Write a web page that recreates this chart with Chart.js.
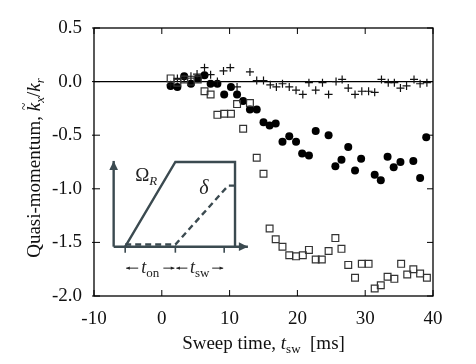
<!DOCTYPE html>
<html>
<head>
<meta charset="utf-8">
<script src="https://cdn.jsdelivr.net/npm/chart.js@4.4.1/dist/chart.umd.min.js"></script>
<style>
  html, body { margin: 0; padding: 0; background: #fff; }
  #wrap { width: 476px; height: 364px; }
</style>
</head>
<body>
<div id="wrap"><canvas id="chart"></canvas></div>
<script>
// filled circles
const circleT = [1.3,2.3,3.3,4.3,5.3,6.3,7.2,8.2,9.2,10.2,11.1,12,13,14,15,15.9,16.8,17.8,18.8,19.8,20.7,21.7,22.7,24.6,25.6,26.5,27.5,28.5,29.4,31.4,32.3,33.3,34.2,35.2,37.1,38.1,39.0];
const circleY = [-0.04,-0.05,0.05,-0.02,0.03,0.06,-0.02,-0.02,-0.12,-0.05,-0.12,-0.18,-0.26,-0.26,-0.38,-0.41,-0.39,-0.56,-0.51,-0.56,-0.67,-0.69,-0.46,-0.50,-0.79,-0.73,-0.61,-0.83,-0.72,-0.87,-0.92,-0.70,-0.80,-0.75,-0.74,-0.90,-0.52];
// open squares
const squareT = [1.3,2.3,3.3,4.3,5.3,6.3,7.2,8.2,9.2,10.2,11.1,12,13,14,15,15.9,16.8,17.8,18.8,19.8,20.8,21.7,22.7,23.6,24.6,25.6,26.5,27.5,28.5,29.5,30.5,31.4,32.3,33.3,34.3,35.3,36.2,37.1,38.1,39.1];
const squareY = [0.03,-0.01,0.02,0.0,0.02,-0.09,-0.12,-0.31,-0.30,-0.30,-0.21,-0.44,-0.20,-0.71,-0.86,-1.37,-1.47,-1.54,-1.62,-1.63,-1.62,-1.57,-1.66,-1.66,-1.58,-1.46,-1.56,-1.71,-1.83,-1.70,-1.70,-1.93,-1.90,-1.82,-1.84,-1.70,-1.80,-1.75,-1.79,-1.83];
// crosses
const crossT = [1.3,2.3,3.3,4.3,5.2,6.3,7.2,8.2,9.1,10.1,11.1,13,14,15,16,16.9,17.8,18.8,19.8,20.8,21.7,22.7,23.7,24.6,25.7,26.6,27.5,28.5,29.5,30.5,31.4,32.4,33.4,34.3,35.2,36.1,37.2,38.1,39.1];
const crossY = [-0.03,0.03,0.03,0.05,0.07,0.13,0.065,0.0,0.10,0.13,-0.05,0.09,0.01,0.01,-0.03,-0.05,-0.02,-0.05,-0.08,-0.12,-0.01,-0.08,-0.01,-0.12,0.0,0.02,-0.06,-0.12,-0.09,-0.09,-0.10,0.02,-0.01,-0.01,-0.06,-0.04,0.02,-0.02,-0.01];

const xTicks = [-10, 0, 10, 20, 30, 40];
const yTicks = [0.5, 0.0, -0.5, -1.0, -1.5, -2.0];

// inset sketch (drawn in data units)
const insetOrigin = [-7.1, -1.54];
const insetXEnd = 12.7;
const insetYEnd = -0.74;
const omegaLine = [[-5.4, -1.54], [2.0, -0.75], [10.8, -0.75], [10.8, -1.54]];
const deltaLine = [[-5.4, -1.52], [2.0, -1.52], [9.8, -0.97], [10.8, -0.97]];
const insetMarks = [-5.4, 2.0, 9.2];

const SERIF = '"Liberation Serif", "DejaVu Serif", serif';
const pts = (xs, ys) => xs.map((x, i) => ({x: x, y: ys[i]}));

function runs(ctx, x, y, parts, align) {
  // parts: [text, font, dy]
  let w = 0;
  parts.forEach(p => { ctx.font = p[1]; w += ctx.measureText(p[0]).width; });
  let cx = align === 'center' ? x - w / 2 : x;
  parts.forEach(p => {
    ctx.font = p[1];
    ctx.fillText(p[0], cx, y + (p[2] || 0));
    cx += ctx.measureText(p[0]).width;
  });
  return w;
}

function arrow(ctx, x1, y1, x2, y2, head) {
  ctx.beginPath(); ctx.moveTo(x1, y1); ctx.lineTo(x2, y2); ctx.stroke();
  const a = Math.atan2(y2 - y1, x2 - x1);
  ctx.beginPath();
  ctx.moveTo(x2, y2);
  ctx.lineTo(x2 - head * Math.cos(a - 0.45), y2 - head * Math.sin(a - 0.45));
  ctx.lineTo(x2 - head * Math.cos(a + 0.45), y2 - head * Math.sin(a + 0.45));
  ctx.closePath(); ctx.fill();
}

const framePlugin = {
  id: 'frame',
  beforeDatasetsDraw(chart) {
    const {ctx, chartArea: a, scales: {x, y}} = chart;
    ctx.save();
    // zero line
    ctx.strokeStyle = '#000'; ctx.lineWidth = 1.3;
    ctx.beginPath(); ctx.moveTo(a.left, y.getPixelForValue(0)); ctx.lineTo(a.right, y.getPixelForValue(0)); ctx.stroke();

    // inset
    const px = v => x.getPixelForValue(v), py = v => y.getPixelForValue(v);
    const col = '#3b4a50';
    ctx.strokeStyle = col; ctx.fillStyle = col; ctx.lineWidth = 2.4;
    ctx.beginPath();
    omegaLine.forEach((p, i) => i ? ctx.lineTo(px(p[0]), py(p[1])) : ctx.moveTo(px(p[0]), py(p[1])));
    ctx.stroke();
    ctx.setLineDash([6, 4]);
    ctx.beginPath();
    deltaLine.forEach((p, i) => i ? ctx.lineTo(px(p[0]), py(p[1])) : ctx.moveTo(px(p[0]), py(p[1])));
    ctx.stroke();
    ctx.setLineDash([]);
    const ox = px(insetOrigin[0]), oy = py(insetOrigin[1]);
    ctx.lineWidth = 2.4;
    arrow(ctx, ox, oy, ox, py(insetYEnd), 10);
    arrow(ctx, ox, oy, px(insetXEnd), oy, 10);
    ctx.lineWidth = 1.6;
    insetMarks.forEach(t => { ctx.beginPath(); ctx.moveTo(px(t), oy); ctx.lineTo(px(t), oy + 6); ctx.stroke(); });

    // inset labels
    ctx.fillStyle = '#222'; ctx.textBaseline = 'alphabetic';
    runs(ctx, px(-2.3), py(-0.79) + 15, [['\u03A9', '19px ' + SERIF], ['R', 'italic 13px ' + SERIF, 4]], 'center');
    runs(ctx, px(6.2), py(-0.97) + 8, [['\u03B4', 'italic 20px ' + SERIF]], 'center');
    const ly = py(-1.74);
    ctx.strokeStyle = '#222'; ctx.fillStyle = '#222'; ctx.lineWidth = 1;
    const m0 = px(insetMarks[0]), m1 = px(insetMarks[1]), m2 = px(insetMarks[2]);
    arrow(ctx, m0 + 13, ly, m0 + 1, ly, 4);
    arrow(ctx, m1 - 12, ly, m1 - 1, ly, 4);
    arrow(ctx, m1 + 12, ly, m1 + 1, ly, 4);
    arrow(ctx, m2 - 12, ly, m2 - 1, ly, 4);
    runs(ctx, (m0 + m1) / 2, ly + 5, [['t', 'italic 18px ' + SERIF], ['on', '13px ' + SERIF, 4]], 'center');
    runs(ctx, (m1 + m2) / 2, ly + 5, [['t', 'italic 18px ' + SERIF], ['sw', '13px ' + SERIF, 4]], 'center');
    ctx.restore();
  },
  afterDraw(chart) {
    const {ctx, chartArea: a, scales: {x, y}} = chart;
    ctx.save();
    ctx.strokeStyle = '#000'; ctx.lineWidth = 1.3;
    ctx.strokeRect(a.left, a.top, a.right - a.left, a.bottom - a.top);
    ctx.lineWidth = 1;
    xTicks.forEach(t => {
      const p = x.getPixelForValue(t);
      ctx.beginPath(); ctx.moveTo(p, a.bottom); ctx.lineTo(p, a.bottom - 6); ctx.stroke();
      ctx.beginPath(); ctx.moveTo(p, a.top); ctx.lineTo(p, a.top + 6); ctx.stroke();
    });
    yTicks.forEach(t => {
      const p = y.getPixelForValue(t);
      ctx.beginPath(); ctx.moveTo(a.left - 2, p); ctx.lineTo(a.left + 6, p); ctx.stroke();
      ctx.beginPath(); ctx.moveTo(a.right, p); ctx.lineTo(a.right - 6, p); ctx.stroke();
    });
    // axis titles
    ctx.fillStyle = '#111'; ctx.textBaseline = 'alphabetic';
    runs(ctx, (a.left + a.right) / 2, 349, [
      ['Sweep time, ', '19px ' + SERIF], ['t', 'italic 19px ' + SERIF],
      ['sw', '13px ' + SERIF, 4], ['  [ms]', '19px ' + SERIF]], 'center');
    ctx.translate(40, 168);
    ctx.rotate(-Math.PI / 2);
    const w = runs(ctx, 0, 0, [
      ['Quasi-momentum, ', '19px ' + SERIF], ['k', 'italic 19px ' + SERIF],
      ['x', 'italic 13px ' + SERIF, 4], ['/', '19px ' + SERIF], ['k', 'italic 19px ' + SERIF],
      ['r', 'italic 13px ' + SERIF, 4]], 'center');
    // tilde over the first k
    ctx.font = '19px ' + SERIF;
    const pre = ctx.measureText('Quasi-momentum, ').width;
    ctx.font = '14px ' + SERIF;
    ctx.fillText('~', -w / 2 + pre + 1, -11);
    ctx.restore();
  }
};

new Chart(document.getElementById('chart'), {
  type: 'scatter',
  data: {
    datasets: [
      { data: pts(squareT, squareY), pointStyle: 'rect', pointRadius: 4.8, borderColor: '#333', borderWidth: 1.2, backgroundColor: 'rgba(255,255,255,0)' },
      { data: pts(crossT, crossY), pointStyle: 'cross', pointRadius: 4, borderColor: '#111', borderWidth: 1.2 },
      { data: pts(circleT, circleY), pointStyle: 'circle', pointRadius: 4, borderColor: '#000', borderWidth: 0, backgroundColor: '#000' }
    ]
  },
  options: {
    responsive: true,
    maintainAspectRatio: false,
    animation: false,
    events: [],
    layout: { padding: { left: 0, top: 28, right: 43, bottom: 0 } },
    plugins: { legend: { display: false }, tooltip: { enabled: false } },
    scales: {
      x: {
        type: 'linear', min: -10, max: 40,
        afterFit: s => { s.height = 68; },
        afterBuildTicks: s => { s.ticks = xTicks.map(v => ({value: v})); },
        grid: { display: false }, border: { display: false },
        ticks: { color: '#111', padding: 4, font: { family: SERIF, size: 19 }, maxRotation: 0 }
      },
      y: {
        type: 'linear', min: -2, max: 0.5,
        afterFit: s => { s.width = 94; },
        afterBuildTicks: s => { s.ticks = yTicks.map(v => ({value: v})); },
        grid: { display: false }, border: { display: false },
        ticks: { color: '#111', padding: 4, font: { family: SERIF, size: 19 }, callback: v => v.toFixed(1) }
      }
    }
  },
  plugins: [framePlugin]
});
</script>
</body>
</html>
